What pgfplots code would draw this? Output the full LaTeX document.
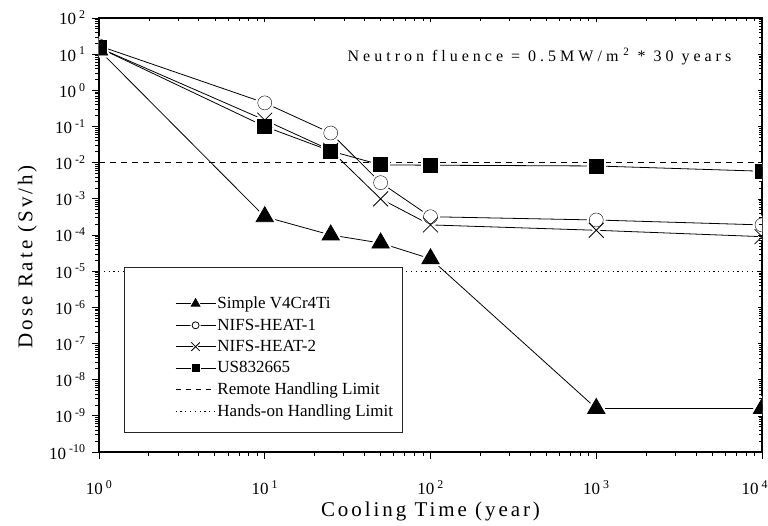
\documentclass[border=0pt]{standalone}
\usepackage{fontspec}
\setmainfont{Liberation Serif}
\newfontfamily\spaced[LetterSpace=14]{Liberation Serif}
\newfontfamily\wide[LetterSpace=25]{Liberation Serif}
\usepackage{pgfplots}
\usepackage{pgfplotstable}
\pgfplotsset{compat=1.18}

% cooling time (year) vs dose rate (Sv/h)
\pgfplotstableread{
t d
1 13
10 3.2e-4
25 1.0e-4
50 6.0e-5
100 2.2e-5
1000 1.6e-9
10000 1.6e-9
}\simple
\pgfplotstableread{
t d
1 17
10 0.45
25 0.066
50 2.8e-3
100 3.2e-4
1000 2.6e-4
10000 1.9e-4
}\heatone
\pgfplotstableread{
t d
1 15
10 0.15
25 0.022
50 1.0e-3
100 1.9e-4
1000 1.35e-4
10000 9.0e-5
}\heattwo
\pgfplotstableread{
t d
1 15
10 0.10
25 0.021
50 8.7e-3
100 8.5e-3
1000 8.1e-3
10000 5.8e-3
}\usalloy

\newcommand{\pw}[1]{10\hspace{3pt}\textsuperscript{#1}}

\pgfplotsset{
  halo/.style={only marks, forget plot, mark options={draw=white, fill=white, line width=5pt, line join=round}},
  dots/.style={only marks, forget plot, mark options={black, fill=black, line width=0.8pt}},
  series/.style={black, line width=0.8pt, mark=none, forget plot},
}

\begin{document}
\begin{tikzpicture}
\begin{axis}[
  at={(0pt,0pt)}, anchor=south west,
  scale only axis, width=663pt, height=434pt,
  xmode=log, ymode=log,
  xmin=1, xmax=10000, ymin=1e-10, ymax=100,
  axis line style={line width=1.1pt},
  tick align=outside, xtick pos=left, ytick pos=left,
  major tick length=7pt, minor tick length=4pt,
  every tick/.style={black, line width=0.8pt},
  xtick={1,10,100,1000,10000},
  xticklabels={\pw{0},\pw{1},\pw{2},\pw{3},\makebox[12pt][r]{\pw{4}}},
  ytick={1e-10,1e-9,1e-8,1e-7,1e-6,1e-5,1e-4,1e-3,1e-2,1e-1,1,10,100},
  yticklabels={\pw{-10},\pw{-9},\pw{-8},\pw{-7},\pw{-6},\pw{-5},\pw{-4},\pw{-3},\pw{-2},\pw{-1},\pw{0},\pw{1},\pw{2}},
  ticklabel style={font=\fontsize{17}{19}\selectfont},
  xticklabel style={yshift=-18pt},
  yticklabel style={xshift=-3pt},
  xlabel={\spaced Cooling Time (year)},
  ylabel={\spaced Dose Rate (Sv/h)},
  label style={font=\fontsize{21}{23}\selectfont},
  xlabel style={at={(axis description cs:0.5,-0.138)}, anchor=center},
  ylabel style={at={(axis description cs:-0.108,0.45)}, anchor=center},
  clip marker paths=true,
  legend style={draw=none, fill=none, at={(axis description cs:0.1146,0.361)}, anchor=north west,
    inner sep=0pt, font=\fontsize{17}{19}\selectfont, row sep=5.6pt, nodes={inner sep=1.5pt}},
  legend cell align=left,
  legend image code/.code={
    \draw[#1, mark=none] (0pt,0pt) -- (40pt,0pt);
    \draw[#1, every mark/.append style={draw=white, fill=white, line width=3pt}] plot coordinates {(20pt,0pt)};
    \draw[#1] plot coordinates {(20pt,0pt)};
  },
]
% limit lines
\addplot[black, line width=0.7pt, dash pattern=on 6pt off 5pt, forget plot] coordinates {(1,0.01) (10000,0.01)};
\addplot[black, line width=0.7pt, dash pattern=on 1.2pt off 3.6pt, forget plot] coordinates {(1,1e-5) (10000,1e-5)};

% series lines
\addplot[series] table[x=t, y=d] {\simple};
\addplot[series] table[x=t, y=d] {\heatone};
\addplot[series] table[x=t, y=d] {\heattwo};
\addplot[series] table[x=t, y=d] {\usalloy};

% white halos round the marks
\addplot[halo, mark=triangle*, mark size=10pt] table[x=t, y=d] {\simple};
\addplot[halo, mark=*, mark size=7pt] table[x=t, y=d] {\heatone};
\addplot[halo, mark=x, mark size=10.5pt] table[x=t, y=d] {\heattwo};
\addplot[halo, mark=square*, mark size=7pt] table[x=t, y=d] {\usalloy};

% marks
\addplot[dots, mark=triangle*, mark size=10pt] table[x=t, y=d] {\simple};
\addplot[dots, mark=*, mark size=7pt, mark options={fill=white}] table[x=t, y=d] {\heatone};
\addplot[dots, mark=x, mark size=10.5pt] table[x=t, y=d] {\heattwo};
\addplot[dots, mark=square*, mark size=7pt] table[x=t, y=d] {\usalloy};

% legend box
\draw[black!85, line width=1pt, fill=white] (axis cs:1.435,1.23e-5) rectangle (axis cs:68.2,3.5e-10);

\addlegendimage{black, line width=0.8pt, mark=triangle*, mark size=5pt, mark options={fill=black}}
\addlegendentry{Simple V4Cr4Ti}
\addlegendimage{black, line width=0.8pt, mark=*, mark size=3.5pt, mark options={fill=white}}
\addlegendentry{NIFS-HEAT-1}
\addlegendimage{black, line width=0.8pt, mark=x, mark size=6pt}
\addlegendentry{NIFS-HEAT-2}
\addlegendimage{black, line width=0.8pt, mark=square*, mark size=3.5pt, mark options={fill=black}}
\addlegendentry{US832665}
\addlegendimage{black, line width=0.7pt, dash pattern=on 5pt off 5pt}
\addlegendentry{Remote Handling Limit}
\addlegendimage{black, line width=0.7pt, dash pattern=on 1.2pt off 3.6pt}
\addlegendentry{Hands-on Handling Limit}

\node[anchor=base east, font=\fontsize{16}{18}\selectfont\wide] at (axis description cs:0.959,0.899)
  {Neutron fluence = 0.5MW/m\hspace{5pt}\textsuperscript{2} * 30 years};
\end{axis}
\begin{axis}[
  at={(0pt,0pt)}, anchor=south west,
  scale only axis, width=663pt, height=434pt,
  xmode=log, ymode=log,
  xmin=1, xmax=10000, ymin=1e-10, ymax=100,
  axis line style={draw=none},
  tick align=inside, xtick pos=right, ytick pos=right,
  major tick length=4pt, minor tick length=3pt,
  every tick/.style={black, line width=0.6pt},
  xtick={1,10,100,1000,10000}, ytick={1e-10,1e-9,1e-8,1e-7,1e-6,1e-5,1e-4,1e-3,1e-2,1e-1,1,10,100},
  xticklabels={}, yticklabels={},
]
\end{axis}
\pgfresetboundingbox
\path (-99pt,-74pt) rectangle (669pt,452pt);
\end{tikzpicture}
\end{document}
